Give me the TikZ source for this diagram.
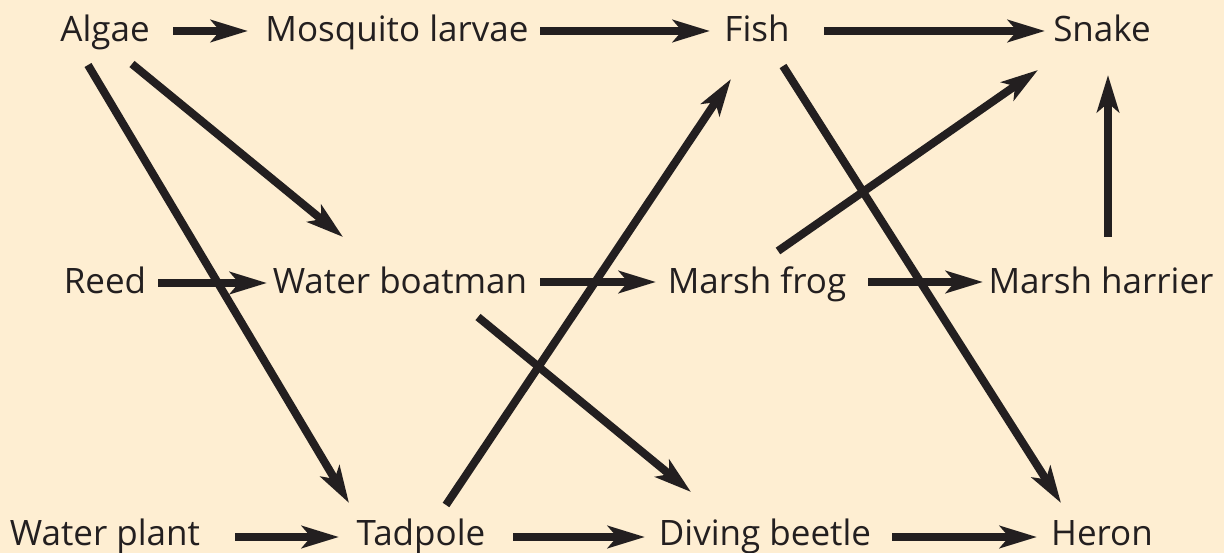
\documentclass[tikz,border=0pt]{standalone}
\usepackage{fontspec}
\setmainfont{Open Sans}
\usetikzlibrary{arrows.meta}
\definecolor{bg}{HTML}{FEEED2}
\definecolor{ink}{HTML}{231F20}
\begin{document}
\begin{tikzpicture}[x=1pt,y=-1pt,
  lbl/.style={anchor=base,inner sep=0pt,text=ink,font=\fontsize{35}{40}\selectfont},
  arr/.style={draw=ink,line width=8pt,-{Stealth[length=37pt,width=22pt,inset=9pt]}}]
\fill[bg] (0,0) rectangle (1224,553);
\useasboundingbox (0,0) rectangle (1224,553);
\node[lbl] (algae) at (105,42) {Algae};
\node[lbl] (mosq) at (397,42) {Mosquito larvae};
\node[lbl] (fish) at (757,42) {Fish};
\node[lbl] (snake) at (1102,42) {Snake};
\node[lbl] (reed) at (105,294) {Reed};
\node[lbl] (wb) at (400,294) {Water boatman};
\node[lbl] (mf) at (757,294) {Marsh frog};
\node[lbl] (mh) at (1101,294) {Marsh harrier};
\node[lbl] (wp) at (105,545) {Water plant};
\node[lbl] (tad) at (421,545) {Tadpole};
\node[lbl] (db) at (765,545) {Diving beetle};
\node[lbl] (heron) at (1102,545) {Heron};
% connectors, endpoints given relative to the named nodes' base anchors
\draw[arr] ([shift={(68,-11)}]algae.base) -- ([shift={(-149,-11)}]mosq.base);
\draw[arr] ([shift={(143,-11)}]mosq.base) -- ([shift={(-47,-11)}]fish.base);
\draw[arr] ([shift={(67,-11)}]fish.base) -- ([shift={(-57,-11)}]snake.base);
\draw[arr] ([shift={(27,22)}]algae.base) -- ([shift={(-57,-57)}]wb.base);
\draw[arr] ([shift={(-17,23)}]algae.base) -- ([shift={(-72,-42)}]tad.base);
\draw[arr] ([shift={(53,-11)}]reed.base) -- ([shift={(-133,-11)}]wb.base);
\draw[arr] ([shift={(140,-12)}]wb.base) -- ([shift={(-101,-12)}]mf.base);
\draw[arr] ([shift={(111,-12)}]mf.base) -- ([shift={(-118,-12)}]mh.base);
\draw[arr] ([shift={(7,-57)}]mh.base) -- ([shift={(6,33)}]snake.base);
\draw[arr] ([shift={(21,-43)}]mf.base) -- ([shift={(-64,28)}]snake.base);
\draw[arr] ([shift={(26,24)}]fish.base) -- ([shift={(-41,-42)}]heron.base);
\draw[arr] ([shift={(25,-40)}]tad.base) -- ([shift={(-26,37)}]fish.base);
\draw[arr] ([shift={(78,23)}]wb.base) -- ([shift={(-74,-53)}]db.base);
\draw[arr] ([shift={(130,-8)}]wp.base) -- ([shift={(-82,-8)}]tad.base);
\draw[arr] ([shift={(92,-8)}]tad.base) -- ([shift={(-120,-8)}]db.base);
\draw[arr] ([shift={(127,-8)}]db.base) -- ([shift={(-65,-8)}]heron.base);
\end{tikzpicture}
\end{document}
